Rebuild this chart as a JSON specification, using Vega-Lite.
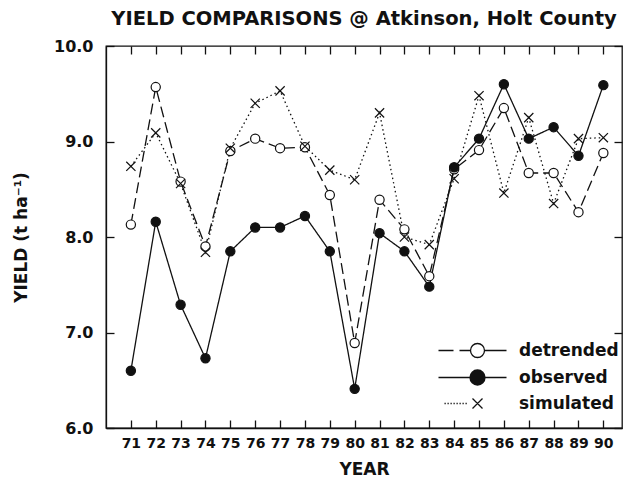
{
  "$schema": "https://vega.github.io/schema/vega-lite/v6.json",
  "width": 516,
  "height": 382,
  "autosize": {"type": "none"},
  "padding": {"left": 106, "top": 46, "right": 5, "bottom": 51},
  "background": "white",
  "title": {
    "text": "YIELD COMPARISONS @ Atkinson, Holt County",
    "anchor": "middle",
    "font": "DejaVu Sans",
    "fontSize": 19.5,
    "fontWeight": "bold",
    "color": "#111",
    "baseline": "alphabetic",
    "offset": -6
  },
  "config": {
    "view": {"stroke": "#111", "strokeWidth": 1.3},
    "axis": {
      "grid": false,
      "domainColor": "#111",
      "domainWidth": 1.3,
      "tickColor": "#111",
      "tickWidth": 1.3,
      "tickSize": -8,
      "labelFont": "DejaVu Sans",
      "labelFontWeight": "bold",
      "labelFontSize": 14,
      "labelColor": "#111",
      "titleFont": "DejaVu Sans",
      "titleFontWeight": "bold",
      "titleFontSize": 17,
      "titleColor": "#111"
    }
  },
  "data": {
    "values": [
      {"year": 71, "series": "detrended", "value": 8.13},
      {"year": 72, "series": "detrended", "value": 9.57},
      {"year": 73, "series": "detrended", "value": 8.58},
      {"year": 74, "series": "detrended", "value": 7.9},
      {"year": 75, "series": "detrended", "value": 8.9},
      {"year": 76, "series": "detrended", "value": 9.03},
      {"year": 77, "series": "detrended", "value": 8.93},
      {"year": 78, "series": "detrended", "value": 8.94},
      {"year": 79, "series": "detrended", "value": 8.44},
      {"year": 80, "series": "detrended", "value": 6.89},
      {"year": 81, "series": "detrended", "value": 8.39},
      {"year": 82, "series": "detrended", "value": 8.08},
      {"year": 83, "series": "detrended", "value": 7.59},
      {"year": 84, "series": "detrended", "value": 8.71},
      {"year": 85, "series": "detrended", "value": 8.91},
      {"year": 86, "series": "detrended", "value": 9.35},
      {"year": 87, "series": "detrended", "value": 8.67},
      {"year": 88, "series": "detrended", "value": 8.67},
      {"year": 89, "series": "detrended", "value": 8.26},
      {"year": 90, "series": "detrended", "value": 8.88},
      {"year": 71, "series": "observed", "value": 6.6},
      {"year": 72, "series": "observed", "value": 8.16},
      {"year": 73, "series": "observed", "value": 7.29},
      {"year": 74, "series": "observed", "value": 6.73},
      {"year": 75, "series": "observed", "value": 7.85},
      {"year": 76, "series": "observed", "value": 8.1},
      {"year": 77, "series": "observed", "value": 8.1},
      {"year": 78, "series": "observed", "value": 8.22},
      {"year": 79, "series": "observed", "value": 7.85},
      {"year": 80, "series": "observed", "value": 6.41},
      {"year": 81, "series": "observed", "value": 8.04},
      {"year": 82, "series": "observed", "value": 7.85},
      {"year": 83, "series": "observed", "value": 7.48},
      {"year": 84, "series": "observed", "value": 8.73},
      {"year": 85, "series": "observed", "value": 9.03},
      {"year": 86, "series": "observed", "value": 9.6},
      {"year": 87, "series": "observed", "value": 9.03},
      {"year": 88, "series": "observed", "value": 9.15},
      {"year": 89, "series": "observed", "value": 8.85},
      {"year": 90, "series": "observed", "value": 9.59},
      {"year": 71, "series": "simulated", "value": 8.74},
      {"year": 72, "series": "simulated", "value": 9.09},
      {"year": 73, "series": "simulated", "value": 8.56},
      {"year": 74, "series": "simulated", "value": 7.84},
      {"year": 75, "series": "simulated", "value": 8.93},
      {"year": 76, "series": "simulated", "value": 9.4},
      {"year": 77, "series": "simulated", "value": 9.53},
      {"year": 78, "series": "simulated", "value": 8.95},
      {"year": 79, "series": "simulated", "value": 8.7},
      {"year": 80, "series": "simulated", "value": 8.6},
      {"year": 81, "series": "simulated", "value": 9.3},
      {"year": 82, "series": "simulated", "value": 8.0},
      {"year": 83, "series": "simulated", "value": 7.92},
      {"year": 84, "series": "simulated", "value": 8.61},
      {"year": 85, "series": "simulated", "value": 9.48},
      {"year": 86, "series": "simulated", "value": 8.46},
      {"year": 87, "series": "simulated", "value": 9.25},
      {"year": 88, "series": "simulated", "value": 8.35},
      {"year": 89, "series": "simulated", "value": 9.03},
      {"year": 90, "series": "simulated", "value": 9.04}
    ]
  },
  "layer": [
    {
      "mark": {"type": "line", "color": "#111", "strokeWidth": 1.3},
      "encoding": {
        "x": {
          "field": "year", "type": "quantitative",
          "scale": {"domain": [70, 90.75], "nice": false, "zero": false},
          "axis": {"orient": "bottom", "values": [71,72,73,74,75,76,77,78,79,80,81,82,83,84,85,86,87,88,89,90], "format": "d", "title": "YEAR", "labelPadding": 16, "titlePadding": 11}
        },
        "y": {
          "field": "value", "type": "quantitative",
          "scale": {"domain": [6, 10], "nice": false, "zero": false},
          "axis": {"orient": "left", "values": [6,7,8,9,10], "format": ".1f", "title": "YIELD (t ha⁻¹)", "labelPadding": 21, "labelFontSize": 16, "titlePadding": 23}
        },
        "strokeDash": {
          "field": "series", "type": "nominal",
          "scale": {"domain": ["detrended", "observed", "simulated"], "range": [[11, 5], [1, 0], [1.5, 3]]},
          "legend": null
        }
      }
    },
    {
      "mark": {"type": "point", "stroke": "#111", "strokeWidth": 1.2, "opacity": 1, "size": 85},
      "encoding": {
        "x": {"field": "year", "type": "quantitative", "axis": null},
        "y": {"field": "value", "type": "quantitative", "axis": null},
        "shape": {
          "field": "series", "type": "nominal",
          "scale": {"domain": ["detrended", "observed", "simulated"], "range": ["circle", "circle", "M-1,-1L1,1M-1,1L1,-1"]},
          "legend": null
        },
        "fill": {
          "field": "series", "type": "nominal",
          "scale": {"domain": ["detrended", "observed", "simulated"], "range": ["white", "#111", "transparent"]},
          "legend": null
        }
      }
    },
    {
      "transform": [{"filter": "datum.year > 1000"}],
      "mark": {"type": "point", "color": "#111", "filled": false, "strokeWidth": 1.3, "opacity": 1},
      "encoding": {
        "x": {"field": "year", "type": "quantitative", "axis": {"orient": "top", "values": [71,72,73,74,75,76,77,78,79,80,81,82,83,84,85,86,87,88,89,90], "labels": false, "title": null, "domain": false}},
        "y": {"field": "value", "type": "quantitative", "axis": {"orient": "right", "values": [6,7,8,9,10], "labels": false, "title": null, "domain": false}},
        "shape": {
          "field": "series", "type": "nominal",
          "scale": {"domain": ["detrended", "observed", "simulated"], "range": [
            "M-7.8,0H-4.8M-3.6,0H-1.4M1.4,0A1.4,1.4 0 1,1 -1.4,0A1.4,1.4 0 1,1 1.4,0M1.4,0H5.8",
            "M-7.8,0H5.8M1.5,0A1.5,1.5 0 1,1 -1.5,0A1.5,1.5 0 1,1 1.5,0M1.25,0A1.25,1.25 0 1,1 -1.25,0A1.25,1.25 0 1,1 1.25,0M1,0A1,1 0 1,1 -1,0A1,1 0 1,1 1,0M0.75,0A0.75,0.75 0 1,1 -0.75,0A0.75,0.75 0 1,1 0.75,0M0.5,0A0.5,0.5 0 1,1 -0.5,0A0.5,0.5 0 1,1 0.5,0M0.25,0A0.25,0.25 0 1,1 -0.25,0A0.25,0.25 0 1,1 0.25,0",
            "M-6.6,0h0.25M-6,0h0.25M-5.4,0h0.25M-4.8,0h0.25M-4.2,0h0.25M-3.6,0h0.25M-3,0h0.25M-2.4,0h0.25M-1,-1L1,1M-1,1L1,-1"
          ]},
          "legend": {
            "title": null, "orient": "none", "legendX": 363, "legendY": 296,
            "symbolSize": 100, "symbolOpacity": 1, "symbolStrokeWidth": 1.3, "symbolStrokeColor": "#111",
            "labelFont": "DejaVu Sans", "labelFontWeight": "bold", "labelFontSize": 17, "labelColor": "#111",
            "labelOffset": 33, "rowPadding": 6
          }
        }
      }
    }
  ],
  "resolve": {
    "scale": {"shape": "independent", "fill": "independent"},
    "axis": {"x": "independent", "y": "independent"}
  }
}
